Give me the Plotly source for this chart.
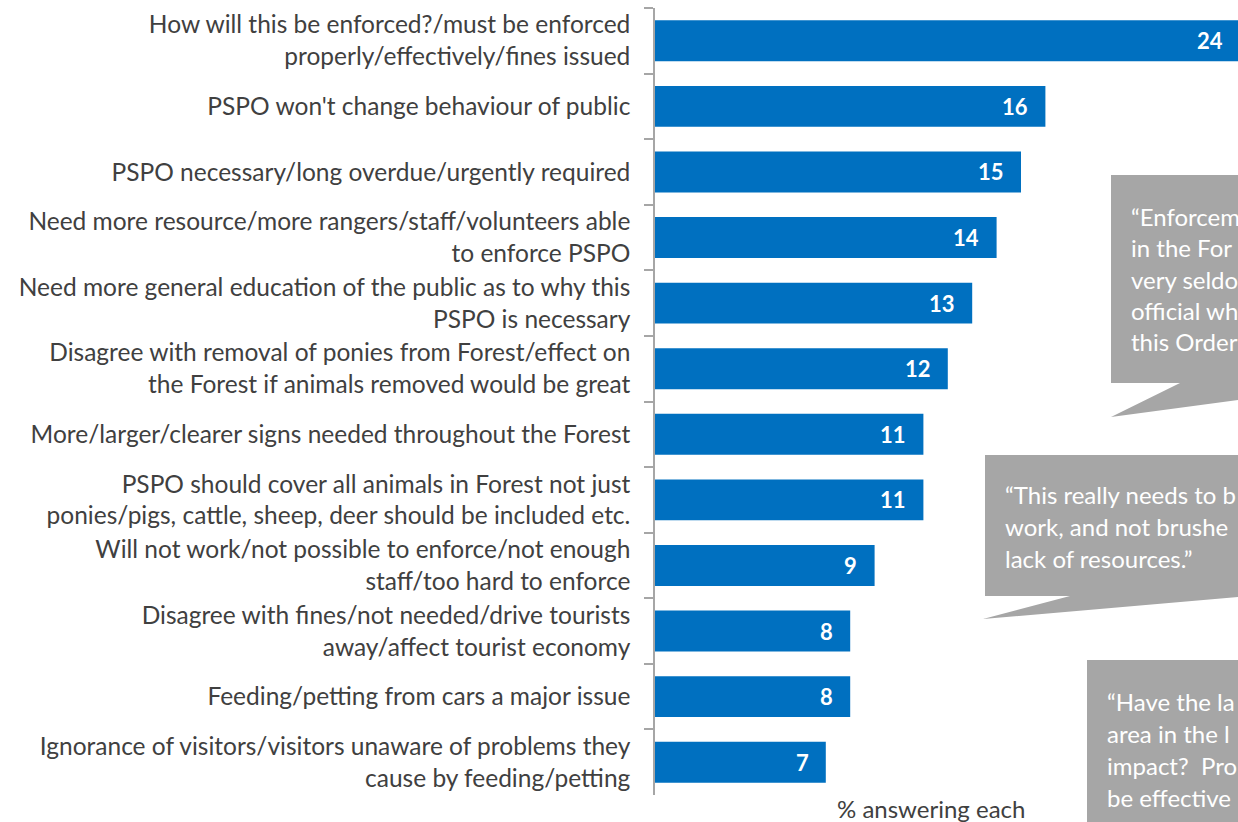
import plotly.graph_objects as go

categories = [
    "How will this be enforced?/must be enforced<br>properly/effectively/fines issued",
    "PSPO won't change behaviour of public",
    "PSPO necessary/long overdue/urgently required",
    "Need more resource/more rangers/staff/volunteers able<br>to enforce PSPO",
    "Need more general education of the public as to why this<br>PSPO is necessary",
    "Disagree with removal of ponies from Forest/effect on<br>the Forest if animals removed would be great",
    "More/larger/clearer signs needed throughout the Forest",
    "PSPO should cover all animals in Forest not just<br>ponies/pigs, cattle, sheep, deer should be included etc.",
    "Will not work/not possible to enforce/not enough<br>staff/too hard to enforce",
    "Disagree with fines/not needed/drive tourists<br>away/affect tourist economy",
    "Feeding/petting from cars a major issue",
    "Ignorance of visitors/visitors unaware of problems they<br>cause by feeding/petting",
]
values = [24, 16, 15, 14, 13, 12, 11, 11, 9, 8, 8, 7]

axis_title = "% answering each"

quote1 = ["\u201cEnforcem", "in the For", "very seldo", "official wh", "this Order"]
quote2 = ["\u201cThis really needs to b", "work, and not brushe", "lack of resources.\u201d"]
quote3 = ["\u201cHave the la", "area in the l", "impact?  Pro", "be effective"]

W, H = 1238, 822
ML, MR, MT, MB = 655, 0, 8, 27
PW, PH = W - ML - MR, H - MT - MB


def px(x):
    return (x - ML) / PW


def py(y):
    return (H - MB - y) / PH


FONT = "Lato"
TEXT = "#404040"
BLUE = "#0070C0"
GREY = "#A6A6A6"

fig = go.Figure()
fig.add_trace(go.Bar(
    x=values, y=categories, orientation="h",
    marker=dict(color=BLUE, line=dict(width=0)),
    hoverinfo="skip",
))

annotations = []
for c, v in zip(categories, values):
    annotations.append(dict(
        x=v - 0.62, y=c, xref="x", yref="y", text=f"<b>{v}</b>",
        showarrow=False, xanchor="right", yanchor="middle",
        font=dict(family=FONT, size=22, color="white"),
    ))

annotations.append(dict(
    x=px(931), y=py(808), xref="paper", yref="paper", text=axis_title,
    showarrow=False, xanchor="center", yanchor="middle",
    font=dict(family=FONT, size=24, color=TEXT),
))


def path(points):
    return "M " + " L ".join(f"{px(a)},{py(b)}" for a, b in points) + " Z"


shapes = [
    dict(type="path", xref="paper", yref="paper", layer="above",
         path=path([(1111, 175), (1238, 175), (1238, 400), (1111, 417), (1180, 383), (1111, 383)]),
         fillcolor=GREY, line=dict(width=0)),
    dict(type="path", xref="paper", yref="paper", layer="above",
         path=path([(985, 455), (1238, 455), (1238, 597), (983, 619), (1070, 596), (985, 596)]),
         fillcolor=GREY, line=dict(width=0)),
    dict(type="path", xref="paper", yref="paper", layer="above",
         path=path([(1087, 660), (1238, 660), (1238, 822), (1087, 822)]),
         fillcolor=GREY, line=dict(width=0)),
]


def add_quote(lines, x0, y0, step):
    for i, t in enumerate(lines):
        annotations.append(dict(
            x=px(x0), y=py(y0 + i * step), xref="paper", yref="paper", text=t,
            showarrow=False, xanchor="left", yanchor="middle",
            font=dict(family=FONT, size=24, color="white"),
        ))


add_quote(quote1, 1129, 217, 31)
add_quote(quote2, 1003, 494, 32)
add_quote(quote3, 1105, 701, 32)

fig.update_layout(
    width=W, height=H,
    margin=dict(l=ML, r=MR, t=MT, b=MB),
    paper_bgcolor="white", plot_bgcolor="white",
    bargap=0.375,
    showlegend=False,
    xaxis=dict(range=[0, PW / 24.4], visible=False, fixedrange=True),
    yaxis=dict(
        autorange="reversed", tickson="boundaries", ticks="outside",
        ticklen=9, tickcolor="#A6A6A6", tickwidth=1.5,
        showline=True, linecolor="#A6A6A6", linewidth=1.5,
        showgrid=False, ticklabelstandoff=18,
        tickfont=dict(family=FONT, size=24.5, color=TEXT),
        fixedrange=True,
    ),
    annotations=annotations,
    shapes=shapes,
)

fig.write_html(
    "out.html",
    config={"displayModeBar": False},
    post_script="document.body.style.margin='0';document.body.style.overflow='hidden';",
)
